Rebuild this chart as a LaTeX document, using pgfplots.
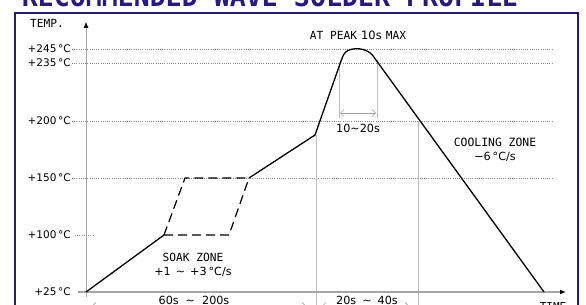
\documentclass[border=0pt]{standalone}
\usepackage{fontspec}
\setmainfont{DejaVu Sans}
\newfontfamily\mono{DejaVu Sans Mono}
\usepackage{pgfplots}
\pgfplotsset{compat=1.18}
\usetikzlibrary{arrows.meta}
\definecolor{navy}{RGB}{38,26,122}
\definecolor{gridgray}{RGB}{140,140,140}
\definecolor{vgray}{RGB}{190,190,190}
\definecolor{axgray}{RGB}{165,165,165}

\begin{document}
\begin{tikzpicture}[x=1pt,y=1pt]
\useasboundingbox (0,0) rectangle (586,305);
\clip (0,0) rectangle (586,305);
% title (partly cut at the top, as in the reference)
\node[anchor=base, font=\mono\bfseries\fontsize{26.6}{30}\selectfont, text=navy, inner sep=0pt] at (270,298) {RECOMMENDED WAVE SOLDER PROFILE};
% frame
\draw[navy, line width=2.5pt] (15,-20) -- (15,292) -- (578,292) -- (578,-20);
\begin{axis}[
  at={(86pt,13pt)}, anchor=south west, scale only axis,
  width=480pt, height=270pt,
  xmin=86, xmax=566, ymin=0, ymax=270,
  clip=false,
  axis line style={draw=none},
  major tick length=0pt,
  xtick=\empty,
  ytick={0,57,114,171,229,243},
  yticklabels={+25\,°C,+100\,°C,+150\,°C,+200\,°C,+235\,°C,+245\,°C},
  yticklabel style={anchor=east, inner sep=0pt, xshift=-15pt, font=\fontsize{10.5}{12}\selectfont},
]
% dotted reference lines
\draw[gridgray, line width=0.6pt, dash pattern=on 0.8pt off 1.4pt] (axis cs:72,243) -- (axis cs:552,243);
\draw[gridgray, line width=0.6pt, dash pattern=on 0.8pt off 1.4pt] (axis cs:72,229) -- (axis cs:552,229);
\draw[gridgray, line width=0.6pt, dash pattern=on 0.8pt off 1.4pt] (axis cs:72,171) -- (axis cs:552,171);
\draw[gridgray, line width=0.6pt, dash pattern=on 0.8pt off 1.4pt] (axis cs:72,114) -- (axis cs:552,114);
\draw[gridgray, line width=0.6pt, dash pattern=on 0.8pt off 1.4pt] (axis cs:75,57) -- (axis cs:93,57);
% vertical guide lines
\draw[vgray, line width=0.6pt] (axis cs:316,157) -- (axis cs:316,-20);
\draw[vgray, line width=0.6pt] (axis cs:418,171) -- (axis cs:418,-20);
\draw[vgray, line width=0.6pt] (axis cs:339,230) -- (axis cs:339,174);
\draw[vgray, line width=0.6pt] (axis cs:377,232) -- (axis cs:377,174);
\draw[axgray, line width=0.6pt, {Straight Barb[length=3.5pt,width=7pt]}-{Straight Barb[length=3.5pt,width=7pt]}] (axis cs:340,179) -- (axis cs:376,179);
% axes
\draw[axgray, line width=1.3pt, -{Latex[black,length=6pt,width=5pt]}] (axis cs:78,0) -- (axis cs:566,0);
\draw[axgray, line width=0.6pt, -{Latex[black,length=6pt,width=5pt]}] (axis cs:86,-5) -- (axis cs:86,270);
% bottom range arrows
\draw[axgray, line width=0.6pt, {Straight Barb[length=3.5pt,width=7pt]}-{Straight Barb[length=3.5pt,width=7pt]}] (axis cs:92,-14) -- (axis cs:306,-14);
\draw[axgray, line width=0.6pt, {Straight Barb[length=3.5pt,width=7pt]}-{Straight Barb[length=3.5pt,width=7pt]}] (axis cs:322,-14) -- (axis cs:409,-14);
% profile
\addplot[black, line width=1.3pt] coordinates {(86,0) (164,57)};
\addplot[black, line width=1.2pt, dash pattern=on 9pt off 5pt] coordinates {(164,57) (229,57) (249,114)};
\addplot[black, line width=1.2pt, dash pattern=on 9pt off 5pt] coordinates {(164,57) (185,114) (249,114)};
\addplot[black, line width=1.3pt] coordinates {(249,114) (315,157) (341,231)};
\addplot[black, line width=1.3pt, smooth] coordinates {(341,231) (344,238) (348,241.5) (353,243) (358,243.3) (363,242.5) (368,240.5) (372,237.5)};
\addplot[black, line width=1.3pt] coordinates {(372,237.5) (544,0)};
% labels
\node[font=\mono\fontsize{11.2}{13}\selectfont] at (axis cs:47,269) {TEMP.};
\node[font=\fontsize{11.5}{13}\selectfont] at (axis cs:358,257) {{\mono\fontsize{11.2}{13}\selectfont AT PEAK}\hspace{4pt}10s\hspace{4pt}{\mono\fontsize{11.2}{13}\selectfont MAX}};
\node[font=\fontsize{11.2}{13}\selectfont] at (axis cs:358,164) {10\textasciitilde 20s};
\node[font=\mono\fontsize{11.4}{13}\selectfont] at (axis cs:495,150) {COOLING ZONE};
\node[font=\fontsize{11.2}{13}\selectfont] at (axis cs:495,135) {−6\,°C/s};
\node[font=\mono\fontsize{11.2}{13}\selectfont] at (axis cs:193,35) {SOAK\hspace{0.6em}ZONE};
\node[font=\fontsize{11.2}{13}\selectfont] at (axis cs:193,20) {+1\hspace{5pt}\textasciitilde\hspace{5pt}+3\,°C/s};
\node[font=\fontsize{11.2}{13}\selectfont, anchor=base] at (axis cs:194,-13) {60s\hspace{7pt}\textasciitilde\hspace{7pt}200s};
\node[font=\fontsize{11.2}{13}\selectfont, anchor=base] at (axis cs:367,-13) {20s\hspace{6pt}\textasciitilde\hspace{6pt}40s};
\node[font=\mono\fontsize{11}{12}\selectfont, anchor=base] at (axis cs:553,-19) {TIME};
\end{axis}
\end{tikzpicture}
\end{document}
